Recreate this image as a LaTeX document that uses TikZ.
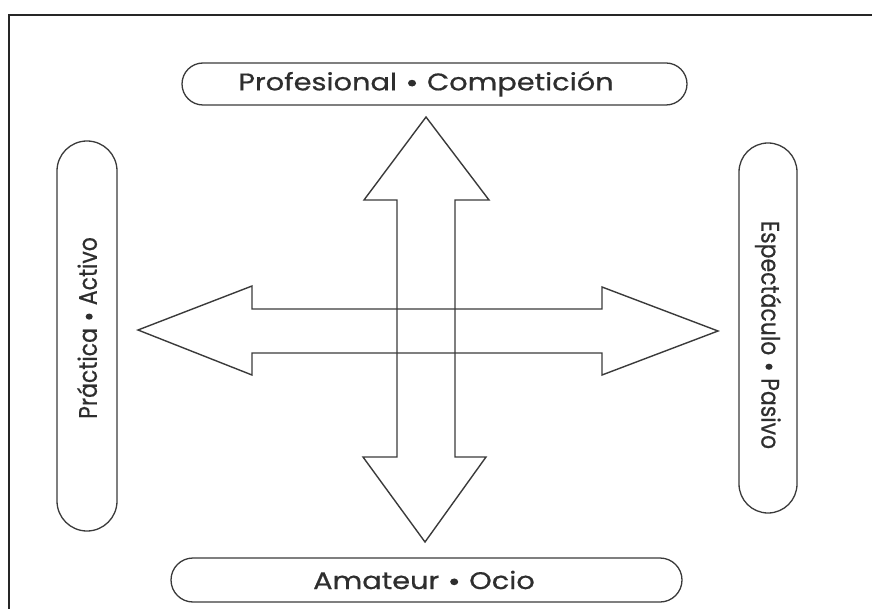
\documentclass[tikz,border=0pt]{standalone}
\usepackage{fontspec}
\setmainfont{Poppins}
\newfontfamily\pillfont[FakeBold=0.6]{Poppins}
\usetikzlibrary{shapes.misc}
\definecolor{ink}{HTML}{3A3A3A}
\definecolor{txt}{HTML}{2E2E2E}
\newcommand{\bigdot}{\hspace{0.38em}\tikz[baseline=-0.3em, x=1pt, y=1pt]\fill[txt] (0,0) circle (0.14em);\hspace{0.38em}}
\tikzset{
  pill/.style={draw=ink, line width=1.3pt, rounded rectangle, inner sep=0pt, text=txt},
  hfont/.style={font=\pillfont\fontsize{24}{26}\selectfont},
  vfont/.style={font=\pillfont\fontsize{22}{24}\selectfont},
  bigarrow/.style={draw=ink, line width=1.4pt, line join=miter},
  frame/.style={draw=black!85, line width=2.2pt}
}
\begin{document}
\begin{tikzpicture}[x=1pt, y=-1pt]
\useasboundingbox (0,0) rectangle (872,609);
% frame (only top and left visible)
\draw[frame] (9,609) -- (9,15) -- (872,15);
% pills
\node[pill, hfont, minimum width=505pt, minimum height=42pt] (top) at (434.5,84) {\scalebox{1.2}[1]{Profesional\bigdot Competición}\hspace*{17pt}};
\node[pill, hfont, minimum width=511pt, minimum height=44pt] (bot) at (426.5,580) {\scalebox{1.2}[1]{Amateur\bigdot Ocio}\hspace*{5pt}};
\node[pill, vfont, rotate=90, minimum width=390pt, minimum height=60pt] (left) at (87,336) {\hspace*{16pt}\scalebox{1}[1.15]{Práctica\bigdot Activo}};
\node[pill, vfont, rotate=-90, minimum width=370pt, minimum height=58pt] (right) at (768,328) {\hspace*{14pt}\scalebox{1}[1.15]{Espectáculo\bigdot Pasivo}};
% vertical double arrow
\draw[bigarrow] (426,117) coordinate (vt) -- (489,200) -- (455,200) -- (455,457) -- (486,457)
  -- (425,542) coordinate (vb) -- (363,457) -- (397,457) -- (397,200) -- (364,200) -- cycle;
% horizontal double arrow
\draw[bigarrow] (138,330) coordinate (hl) -- (252,286) -- (252,309) -- (602,309) -- (602,287)
  -- (718,331) coordinate (hr) -- (602,375) -- (602,353) -- (252,353) -- (252,375) -- cycle;
\end{tikzpicture}
\end{document}
